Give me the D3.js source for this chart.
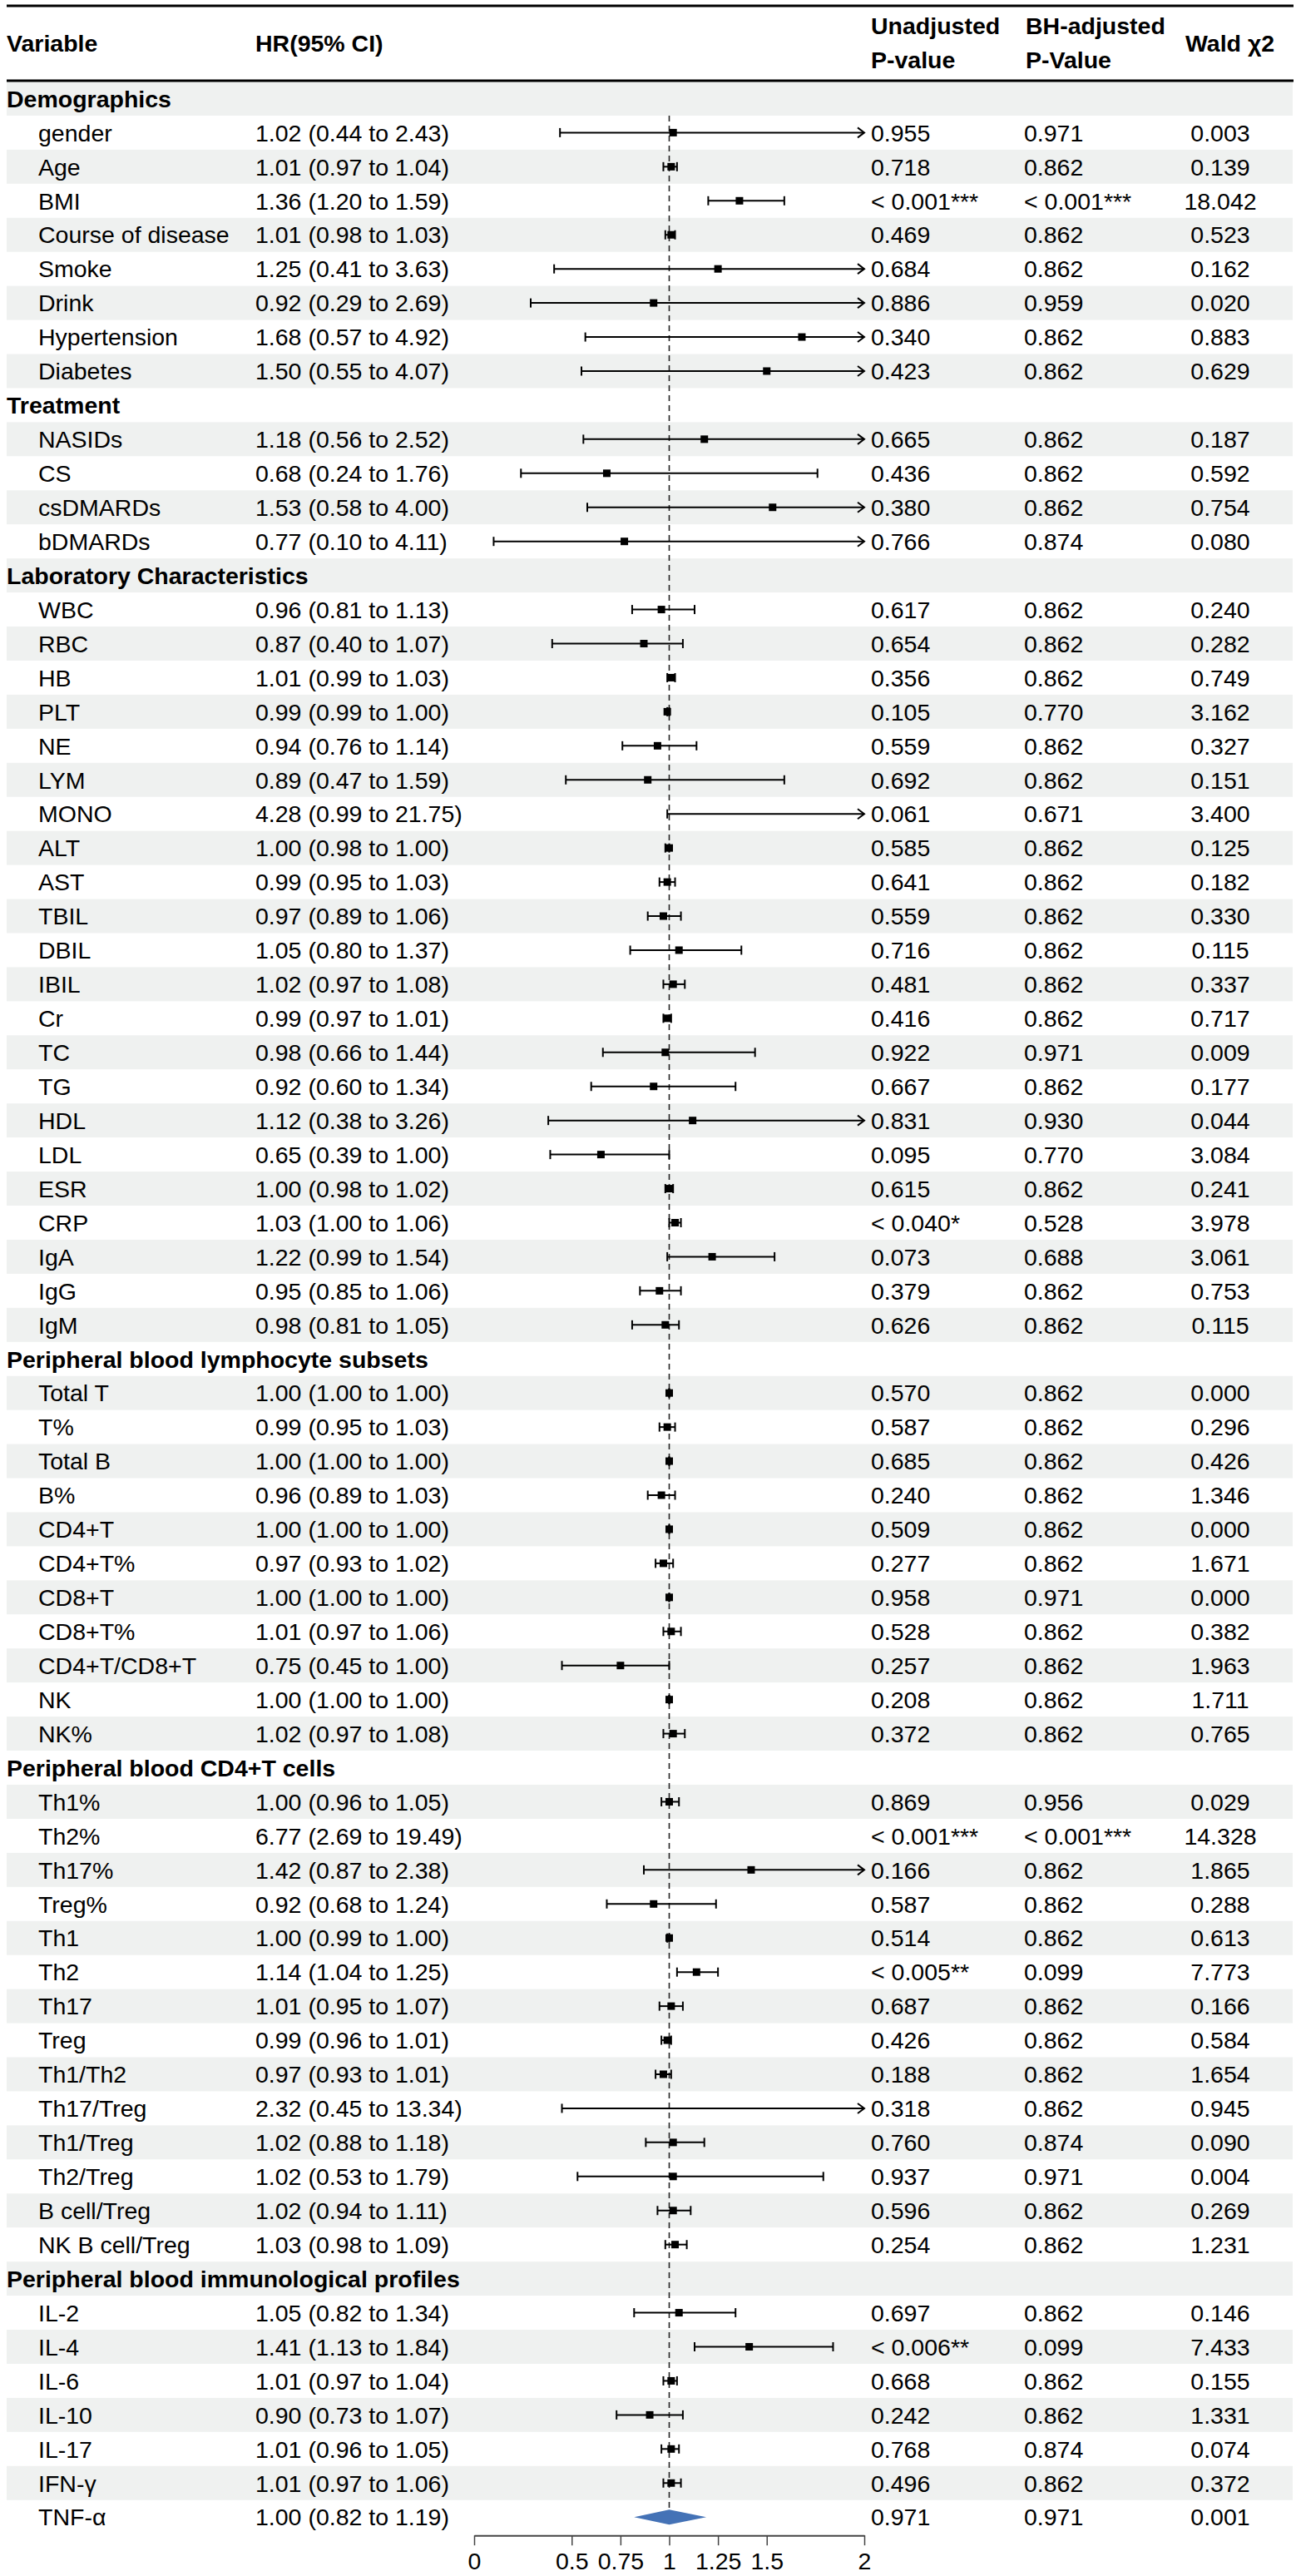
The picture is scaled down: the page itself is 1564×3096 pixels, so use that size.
<!DOCTYPE html>
<html>
<head>
<meta charset="utf-8">
<script src="https://cdn.jsdelivr.net/npm/d3@7"></script>
<style>
  html, body { margin: 0; padding: 0; background: #ffffff; }
  svg { display: block; font-family: "Liberation Sans", Arial, Helvetica, sans-serif; }
</style>
</head>
<body>
<svg id="chart" width="1564" height="3096"></svg>
<script>
// ---------------- DATA ----------------
const sectionNames = [
  "Demographics",
  "Treatment",
  "Laboratory Characteristics",
  "Peripheral blood lymphocyte subsets",
  "Peripheral blood CD4+T cells",
  "Peripheral blood immunological profiles"
];
const sectionSizes = [8, 4, 22, 11, 14, 7];

const variables = [
  "gender","Age","BMI","Course of disease","Smoke","Drink","Hypertension","Diabetes",
  "NASIDs","CS","csDMARDs","bDMARDs",
  "WBC","RBC","HB","PLT","NE","LYM","MONO","ALT","AST","TBIL","DBIL","IBIL","Cr","TC","TG","HDL","LDL","ESR","CRP","IgA","IgG","IgM",
  "Total T","T%","Total B","B%","CD4+T","CD4+T%","CD8+T","CD8+T%","CD4+T/CD8+T","NK","NK%",
  "Th1%","Th2%","Th17%","Treg%","Th1","Th2","Th17","Treg","Th1/Th2","Th17/Treg","Th1/Treg","Th2/Treg","B cell/Treg","NK B cell/Treg",
  "IL-2","IL-4","IL-6","IL-10","IL-17","IFN-γ","TNF-α"
];
const hr = [
  1.02,1.01,1.36,1.01,1.25,0.92,1.68,1.50,
  1.18,0.68,1.53,0.77,
  0.96,0.87,1.01,0.99,0.94,0.89,4.28,1.00,0.99,0.97,1.05,1.02,0.99,0.98,0.92,1.12,0.65,1.00,1.03,1.22,0.95,0.98,
  1.00,0.99,1.00,0.96,1.00,0.97,1.00,1.01,0.75,1.00,1.02,
  1.00,6.77,1.42,0.92,1.00,1.14,1.01,0.99,0.97,2.32,1.02,1.02,1.02,1.03,
  1.05,1.41,1.01,0.90,1.01,1.01,1.00
];
const lower = [
  0.44,0.97,1.20,0.98,0.41,0.29,0.57,0.55,
  0.56,0.24,0.58,0.10,
  0.81,0.40,0.99,0.99,0.76,0.47,0.99,0.98,0.95,0.89,0.80,0.97,0.97,0.66,0.60,0.38,0.39,0.98,1.00,0.99,0.85,0.81,
  1.00,0.95,1.00,0.89,1.00,0.93,1.00,0.97,0.45,1.00,0.97,
  0.96,2.69,0.87,0.68,0.99,1.04,0.95,0.96,0.93,0.45,0.88,0.53,0.94,0.98,
  0.82,1.13,0.97,0.73,0.96,0.97,0.82
];
const upper = [
  2.43,1.04,1.59,1.03,3.63,2.69,4.92,4.07,
  2.52,1.76,4.00,4.11,
  1.13,1.07,1.03,1.00,1.14,1.59,21.75,1.00,1.03,1.06,1.37,1.08,1.01,1.44,1.34,3.26,1.00,1.02,1.06,1.54,1.06,1.05,
  1.00,1.03,1.00,1.03,1.00,1.02,1.00,1.06,1.00,1.00,1.08,
  1.05,19.49,2.38,1.24,1.00,1.25,1.07,1.01,1.01,13.34,1.18,1.79,1.11,1.09,
  1.34,1.84,1.04,1.07,1.05,1.06,1.19
];
const pUnadjusted = [
  "0.955","0.718","< 0.001***","0.469","0.684","0.886","0.340","0.423",
  "0.665","0.436","0.380","0.766",
  "0.617","0.654","0.356","0.105","0.559","0.692","0.061","0.585","0.641","0.559","0.716","0.481","0.416","0.922","0.667","0.831","0.095","0.615","< 0.040*","0.073","0.379","0.626",
  "0.570","0.587","0.685","0.240","0.509","0.277","0.958","0.528","0.257","0.208","0.372",
  "0.869","< 0.001***","0.166","0.587","0.514","< 0.005**","0.687","0.426","0.188","0.318","0.760","0.937","0.596","0.254",
  "0.697","< 0.006**","0.668","0.242","0.768","0.496","0.971"
];
const pAdjusted = [
  "0.971","0.862","< 0.001***","0.862","0.862","0.959","0.862","0.862",
  "0.862","0.862","0.862","0.874",
  "0.862","0.862","0.862","0.770","0.862","0.862","0.671","0.862","0.862","0.862","0.862","0.862","0.862","0.971","0.862","0.930","0.770","0.862","0.528","0.688","0.862","0.862",
  "0.862","0.862","0.862","0.862","0.862","0.862","0.971","0.862","0.862","0.862","0.862",
  "0.956","< 0.001***","0.862","0.862","0.862","0.099","0.862","0.862","0.862","0.862","0.874","0.971","0.862","0.862",
  "0.862","0.099","0.862","0.862","0.874","0.862","0.971"
];
const waldChi2 = [
  "0.003","0.139","18.042","0.523","0.162","0.020","0.883","0.629",
  "0.187","0.592","0.754","0.080",
  "0.240","0.282","0.749","3.162","0.327","0.151","3.400","0.125","0.182","0.330","0.115","0.337","0.717","0.009","0.177","0.044","3.084","0.241","3.978","3.061","0.753","0.115",
  "0.000","0.296","0.426","1.346","0.000","1.671","0.000","0.382","1.963","1.711","0.765",
  "0.029","14.328","1.865","0.288","0.613","7.773","0.166","0.584","1.654","0.945","0.090","0.004","0.269","1.231",
  "0.146","7.433","0.155","1.331","0.074","0.372","0.001"
];
const diamondVariables = ["TNF-α"];
const axisTicks = [0, 0.5, 0.75, 1, 1.25, 1.5, 2];
const refValue = 1;
const headerTexts = {
  variable: "Variable",
  hr: "HR(95% CI)",
  unadj: ["Unadjusted", "P-value"],
  adj: ["BH-adjusted", "P-Value"],
  wald: "Wald χ2"
};

// ---------------- BUILD ROWS ----------------
const rows = [];
let vi = 0;
sectionNames.forEach((s, si) => {
  rows.push({ header: true, label: s });
  for (let k = 0; k < sectionSizes[si]; k++, vi++) {
    rows.push({
      header: false,
      label: variables[vi],
      hr: hr[vi], lo: lower[vi], hi: upper[vi],
      p1: pUnadjusted[vi], p2: pAdjusted[vi], w: waldChi2[vi],
      diamond: diamondVariables.includes(variables[vi])
    });
  }
});

// ---------------- LAYOUT ----------------
const fs = 28.5;
const left = 8, right = 1555;
const rowTop = 98, rowH = 40.94;
const colX = { label: 8, labelIndent: 46, hr: 307, p1: 1047, p2: 1231, wald: 1467, waldHead: 1425 };
const f2 = d3.format(".2f");

const svg = d3.select("#chart");
const x = d3.scaleLinear().domain([0, 2]).range([570, 1039]);
const y = d3.scaleBand().domain(d3.range(rows.length)).range([rowTop, rowTop + rows.length * rowH]).padding(0);
const cy = i => y(i) + y.bandwidth() / 2;

svg.append("rect").attr("width", 1564).attr("height", 3096).attr("fill", "#ffffff");

// stripes
svg.append("g").selectAll("rect").data(rows).join("rect")
  .attr("x", left).attr("width", right - left - 1)
  .attr("y", (d, i) => y(i)).attr("height", y.bandwidth() + 0.5)
  .attr("fill", (d, i) => i % 2 === 0 ? "#eff1f0" : "#ffffff");

// header rules
svg.append("line").attr("x1", left).attr("x2", right).attr("y1", 7).attr("y2", 7)
  .attr("stroke", "#000").attr("stroke-width", 3);
svg.append("line").attr("x1", left).attr("x2", right).attr("y1", 97).attr("y2", 97)
  .attr("stroke", "#000").attr("stroke-width", 3);

// header text
const hg = svg.append("g").attr("font-weight", "bold").attr("font-size", fs).attr("fill", "#000");
hg.append("text").attr("x", colX.label).attr("y", 52).attr("dy", "0.36em").text(headerTexts.variable);
hg.append("text").attr("x", colX.hr).attr("y", 52).attr("dy", "0.36em").text(headerTexts.hr);
hg.append("text").attr("x", colX.p1).attr("y", 31).attr("dy", "0.36em").text(headerTexts.unadj[0]);
hg.append("text").attr("x", colX.p1).attr("y", 72).attr("dy", "0.36em").text(headerTexts.unadj[1]);
hg.append("text").attr("x", colX.p2 + 2).attr("y", 31).attr("dy", "0.36em").text(headerTexts.adj[0]);
hg.append("text").attr("x", colX.p2 + 2).attr("y", 72).attr("dy", "0.36em").text(headerTexts.adj[1]);
hg.append("text").attr("x", colX.waldHead).attr("y", 52).attr("dy", "0.36em").text(headerTexts.wald);

// row text
const tg = svg.append("g").attr("font-size", fs).attr("fill", "#000");
rows.forEach((r, i) => {
  if (r.header) {
    tg.append("text").attr("x", colX.label).attr("y", cy(i)).attr("dy", "0.36em")
      .attr("font-weight", "bold").text(r.label);
  } else {
    tg.append("text").attr("x", colX.labelIndent).attr("y", cy(i)).attr("dy", "0.36em").text(r.label);
    tg.append("text").attr("x", colX.hr).attr("y", cy(i)).attr("dy", "0.36em")
      .text(`${f2(r.hr)} (${f2(r.lo)} to ${f2(r.hi)})`);
    tg.append("text").attr("x", colX.p1).attr("y", cy(i)).attr("dy", "0.36em").text(r.p1);
    tg.append("text").attr("x", colX.p2).attr("y", cy(i)).attr("dy", "0.36em").text(r.p2);
    tg.append("text").attr("x", colX.wald).attr("y", cy(i)).attr("dy", "0.36em")
      .attr("text-anchor", "middle").text(r.w);
  }
});

// reference line
const firstData = rows.findIndex(r => !r.header);
svg.append("line")
  .attr("x1", x(refValue)).attr("x2", x(refValue))
  .attr("y1", y(firstData)).attr("y2", cy(rows.length - 1))
  .attr("stroke", "#222").attr("stroke-width", 1.6).attr("stroke-dasharray", "7,5");

// forest marks
const [dMin, dMax] = x.domain();
const pg = svg.append("g");
const capH = 5.5, box = 9;
rows.forEach((r, i) => {
  if (r.header) return;
  const yc = cy(i);
  if (r.diamond) {
    const h = 9;
    pg.append("path")
      .attr("d", `M${x(r.lo)},${yc}L${x(r.hr)},${yc - h}L${x(r.hi)},${yc}L${x(r.hr)},${yc + h}Z`)
      .attr("fill", "#4472b6");
    return;
  }
  if (r.lo > dMax || r.hi < dMin) return;
  const lo = Math.max(r.lo, dMin), hi = Math.min(r.hi, dMax);
  const x1 = x(lo), x2 = x(hi);
  pg.append("line").attr("x1", x1).attr("x2", x2).attr("y1", yc).attr("y2", yc)
    .attr("stroke", "#000").attr("stroke-width", 2);
  // left end
  if (r.lo >= dMin) {
    pg.append("line").attr("x1", x1).attr("x2", x1).attr("y1", yc - capH).attr("y2", yc + capH)
      .attr("stroke", "#000").attr("stroke-width", 2);
  }
  // right end
  if (r.hi <= dMax) {
    pg.append("line").attr("x1", x2).attr("x2", x2).attr("y1", yc - capH).attr("y2", yc + capH)
      .attr("stroke", "#000").attr("stroke-width", 2);
  } else {
    pg.append("path").attr("d", `M${x2 - 8},${yc - 6}L${x2},${yc}L${x2 - 8},${yc + 6}`)
      .attr("fill", "none").attr("stroke", "#000").attr("stroke-width", 2);
  }
  if (r.hr >= dMin && r.hr <= dMax) {
    pg.append("rect").attr("x", x(r.hr) - box / 2).attr("y", yc - box / 2)
      .attr("width", box).attr("height", box).attr("fill", "#000");
  }
});

// axis
const axisY = rowTop + rows.length * rowH + 1.5;
const ax = svg.append("g").attr("transform", `translate(0,${axisY})`)
  .call(d3.axisBottom(x).tickValues(axisTicks).tickFormat(d => String(d))
    .tickSize(12).tickSizeOuter(0).tickPadding(9));
ax.select(".domain").attr("stroke", "#444").attr("stroke-width", 2);
ax.selectAll(".tick line").attr("stroke", "#444").attr("stroke-width", 1.5);
ax.selectAll(".tick text").attr("font-size", fs).attr("fill", "#000")
  .attr("font-family", "'Liberation Sans', Arial, sans-serif");
</script>
</body>
</html>
